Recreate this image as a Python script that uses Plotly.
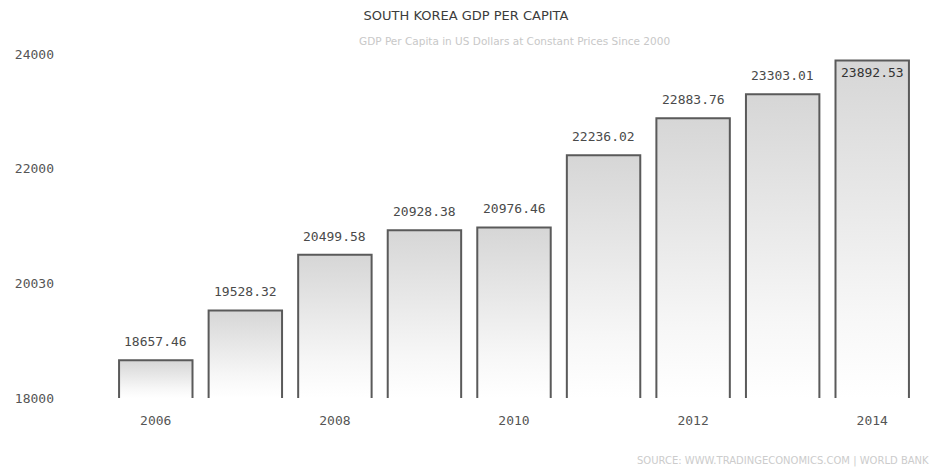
import plotly.graph_objects as go

years = [2006, 2007, 2008, 2009, 2010, 2011, 2012, 2013, 2014]
gdp_per_capita = [18657.46, 19528.32, 20499.58, 20928.38, 20976.46,
                  22236.02, 22883.76, 23303.01, 23892.53]
x_ticks = [2006, 2008, 2010, 2012, 2014]
y_ticks = [18000, 20000, 22000, 24000]
y_tick_text = ["18000", "20030", "22000", "24000"]

Y_MIN, Y_MAX = 18000, 24000
HALF_W = 0.41

fig = go.Figure()

# Each bar is an open-bottom outline with a vertical grey-to-white gradient fill
for yr, val in zip(years, gdp_per_capita):
    fig.add_trace(go.Scatter(
        x=[yr - HALF_W, yr - HALF_W, yr + HALF_W, yr + HALF_W],
        y=[Y_MIN, val, val, Y_MIN],
        mode="lines",
        fill="toself",
        fillgradient=dict(type="vertical",
                          colorscale=[[0, "#ffffff"], [0.25, "#f7f7f7"], [1, "#d6d6d6"]],
                          start=Y_MIN, stop=val),
        line=dict(color="#5a5a5a", width=2),
        hoverinfo="skip",
        showlegend=False,
    ))

# Value labels above each bar (inside the top of the bar when near the ceiling)
for yr, val in zip(years, gdp_per_capita):
    inside = val > Y_MAX - 300
    fig.add_annotation(
        x=yr, y=val, xref="x", yref="y",
        text=f"{val:.2f}", showarrow=False,
        yanchor="top" if inside else "bottom",
        yshift=-3 if inside else 9,
        font=dict(family="DejaVu Sans Mono", size=13,
                  color="#333333" if inside else "#4a4a4a"),
    )

fig.update_layout(
    width=932, height=475,
    margin=dict(l=111, r=15, t=52, b=77),
    paper_bgcolor="white",
    plot_bgcolor="white",
    title=dict(
        text="SOUTH KOREA GDP PER CAPITA",
        x=0.5, xanchor="center", y=0.968, yanchor="middle",
        font=dict(family="DejaVu Sans", size=13, color="#3c3c3c", weight=500),
    ),
    xaxis=dict(
        range=[2005.5, 2014.5],
        tickmode="array", tickvals=x_ticks, ticktext=[str(t) for t in x_ticks],
        showgrid=False, zeroline=False, showline=False, ticks="",
        ticklabelstandoff=13,
        tickfont=dict(family="DejaVu Sans Mono", size=13, color="#555555"),
    ),
    yaxis=dict(
        range=[Y_MIN, Y_MAX + 40],
        tickmode="array", tickvals=y_ticks, ticktext=y_tick_text,
        showgrid=False, zeroline=False, showline=False, ticks="",
        ticklabelstandoff=56,
        tickfont=dict(family="DejaVu Sans Mono", size=13, color="#555555"),
    ),
)

fig.add_annotation(
    text="GDP Per Capita in US Dollars at Constant Prices Since 2000",
    xref="paper", yref="paper", x=0.5, y=1.0, xanchor="center", yanchor="bottom",
    yshift=3, showarrow=False,
    font=dict(family="DejaVu Sans", size=10.5, color="#c8c8c8"),
)
fig.add_annotation(
    text="SOURCE: WWW.TRADINGECONOMICS.COM | WORLD BANK",
    xref="paper", yref="paper", x=1.0, y=0, xanchor="right", yanchor="top",
    xshift=14, yshift=-55, showarrow=False,
    font=dict(family="DejaVu Sans", size=10, color="#cccccc"),
)

fig.write_html("out.html")
